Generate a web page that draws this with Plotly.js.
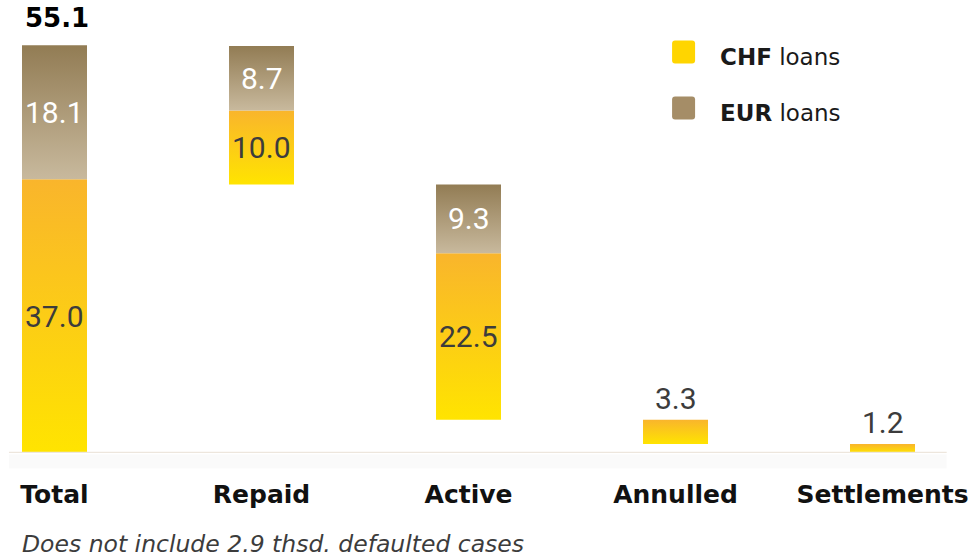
<!DOCTYPE html>
<html>
<head>
<meta charset="utf-8">
<script src="https://cdn.plot.ly/plotly-3.0.1.min.js"></script>
<style>
  html, body { margin: 0; padding: 0; background: #fff; }
  #chart { width: 971px; height: 558px; }
</style>
</head>
<body>
<div id="chart"></div>
<script>
// loans in thousands
var categories = ['Total', 'Repaid', 'Active', 'Annulled', 'Settlements'];
var chfValues = [37.0, 10.0, 22.5, 3.3, 1.2];
var eurValues = [18.1, 8.7, 9.3, 0, 0];
var footnote = 'Does not include 2.9 thsd. defaulted cases';

var chfScale = [[0, '#ffe400'], [1, '#f9b52c']];
var eurScale = [[0, '#c8b99d'], [1, '#927c54']];
var halfWidth = 0.157;
var numFont = 'Roboto, sans-serif';
var txtFont = 'DejaVu Sans, sans-serif';

// waterfall bases: each step sits on top of the steps after it
var bases = categories.map(function () { return 0; });
for (var i = categories.length - 2; i >= 1; i--) {
  bases[i] = bases[i + 1] + chfValues[i + 1] + eurValues[i + 1];
}

function segment(i, y0, y1, scale) {
  return {
    x: [i - halfWidth, i + halfWidth, i + halfWidth, i - halfWidth, i - halfWidth],
    y: [y0, y0, y1, y1, y0],
    type: 'scatter',
    mode: 'lines',
    fill: 'toself',
    line: { width: 0 },
    fillgradient: { type: 'vertical', colorscale: scale },
    hoverinfo: 'skip',
    showlegend: false
  };
}

var data = [];
var annotations = [];

for (var i = 0; i < categories.length; i++) {
  var b = bases[i];
  var chfTop = b + chfValues[i];
  var eurTop = chfTop + eurValues[i];
  data.push(segment(i, b, chfTop, chfScale));
  if (eurValues[i] > 0) {
    data.push(segment(i, chfTop, eurTop, eurScale));
    annotations.push({
      x: i, y: (chfTop + eurTop) / 2, text: eurValues[i].toFixed(1),
      showarrow: false, font: { family: numFont, size: 30, color: '#ffffff' }
    });
  }
  if (chfValues[i] > 5) {
    annotations.push({
      x: i, y: (b + chfTop) / 2, text: chfValues[i].toFixed(1),
      showarrow: false, font: { family: numFont, size: 30, color: '#3c3c3c' }
    });
  } else {
    annotations.push({
      x: i, y: chfTop, yanchor: 'bottom', yshift: 2, text: chfValues[i].toFixed(1),
      showarrow: false, font: { family: numFont, size: 30, color: '#3c3c3c' }
    });
  }
}

// total on top of the first bar
var grandTotal = chfValues[0] + eurValues[0];
annotations.push({
  x: 0, y: grandTotal, yanchor: 'bottom', yshift: 10, xshift: 2, text: '<b>' + grandTotal.toFixed(1) + '</b>',
  showarrow: false, font: { family: txtFont, size: 26, color: '#000000' }
});

// legend drawn by hand (rounded squares)
var box = 'M-8.5,-11.5 L8.5,-11.5 Q11.5,-11.5 11.5,-8.5 L11.5,8.5 Q11.5,11.5 8.5,11.5 ' +
          'L-8.5,11.5 Q-11.5,11.5 -11.5,8.5 L-11.5,-8.5 Q-11.5,-11.5 -8.5,-11.5 Z';
var legendItems = [
  { label: '<b>CHF</b> loans', color: '#ffd500', y: 0.903 },
  { label: '<b>EUR</b> loans', color: '#a58d67', y: 0.777 }
];

var shapes = [
  { type: 'rect', xref: 'x', yref: 'paper', x0: -0.22, x1: 4.31, y0: -0.035, y1: -0.003,
    fillcolor: 'rgba(0,0,0,0.018)', line: { width: 0 }, layer: 'below' },
  { type: 'line', xref: 'x', yref: 'y', x0: -0.22, x1: 4.31, y0: 0, y1: 0,
    line: { color: '#ede6dd', width: 2.5 } }
];

legendItems.forEach(function (item) {
  shapes.push({
    type: 'path', xref: 'paper', yref: 'paper', xsizemode: 'pixel', ysizemode: 'pixel',
    xanchor: 0.704, yanchor: item.y, path: box,
    fillcolor: item.color, line: { width: 0 }
  });
  annotations.push({
    xref: 'paper', yref: 'paper', x: 0.739, y: item.y - 0.011, xanchor: 'left', yanchor: 'middle',
    text: item.label, showarrow: false, font: { family: txtFont, size: 23, color: '#1a1a1a' }
  });
});

annotations.push({
  xref: 'paper', yref: 'paper', x: 0.021, y: -0.205, xanchor: 'left', yanchor: 'middle',
  text: footnote, showarrow: false,
  font: { family: txtFont, size: 23.5, color: '#3c3c3c', style: 'italic' }
});

var layout = {
  width: 971,
  height: 558,
  margin: { l: 0, r: 0, t: 9, b: 105 },
  paper_bgcolor: '#ffffff',
  plot_bgcolor: '#ffffff',
  showlegend: false,
  xaxis: {
    type: 'linear',
    range: [-0.2633, 4.4275],
    tickvals: categories.map(function (c, i) { return i; }),
    ticktext: categories,
    ticks: '',
    showgrid: false,
    zeroline: false,
    showline: false,
    ticklabelstandoff: 24,
    tickfont: { family: txtFont, size: 25, color: '#111111', weight: 'bold' },
    fixedrange: true
  },
  yaxis: {
    range: [0, 60],
    visible: false,
    fixedrange: true
  },
  shapes: shapes,
  annotations: annotations
};

Plotly.newPlot('chart', data, layout, { displayModeBar: false, staticPlot: true });
</script>
</body>
</html>
